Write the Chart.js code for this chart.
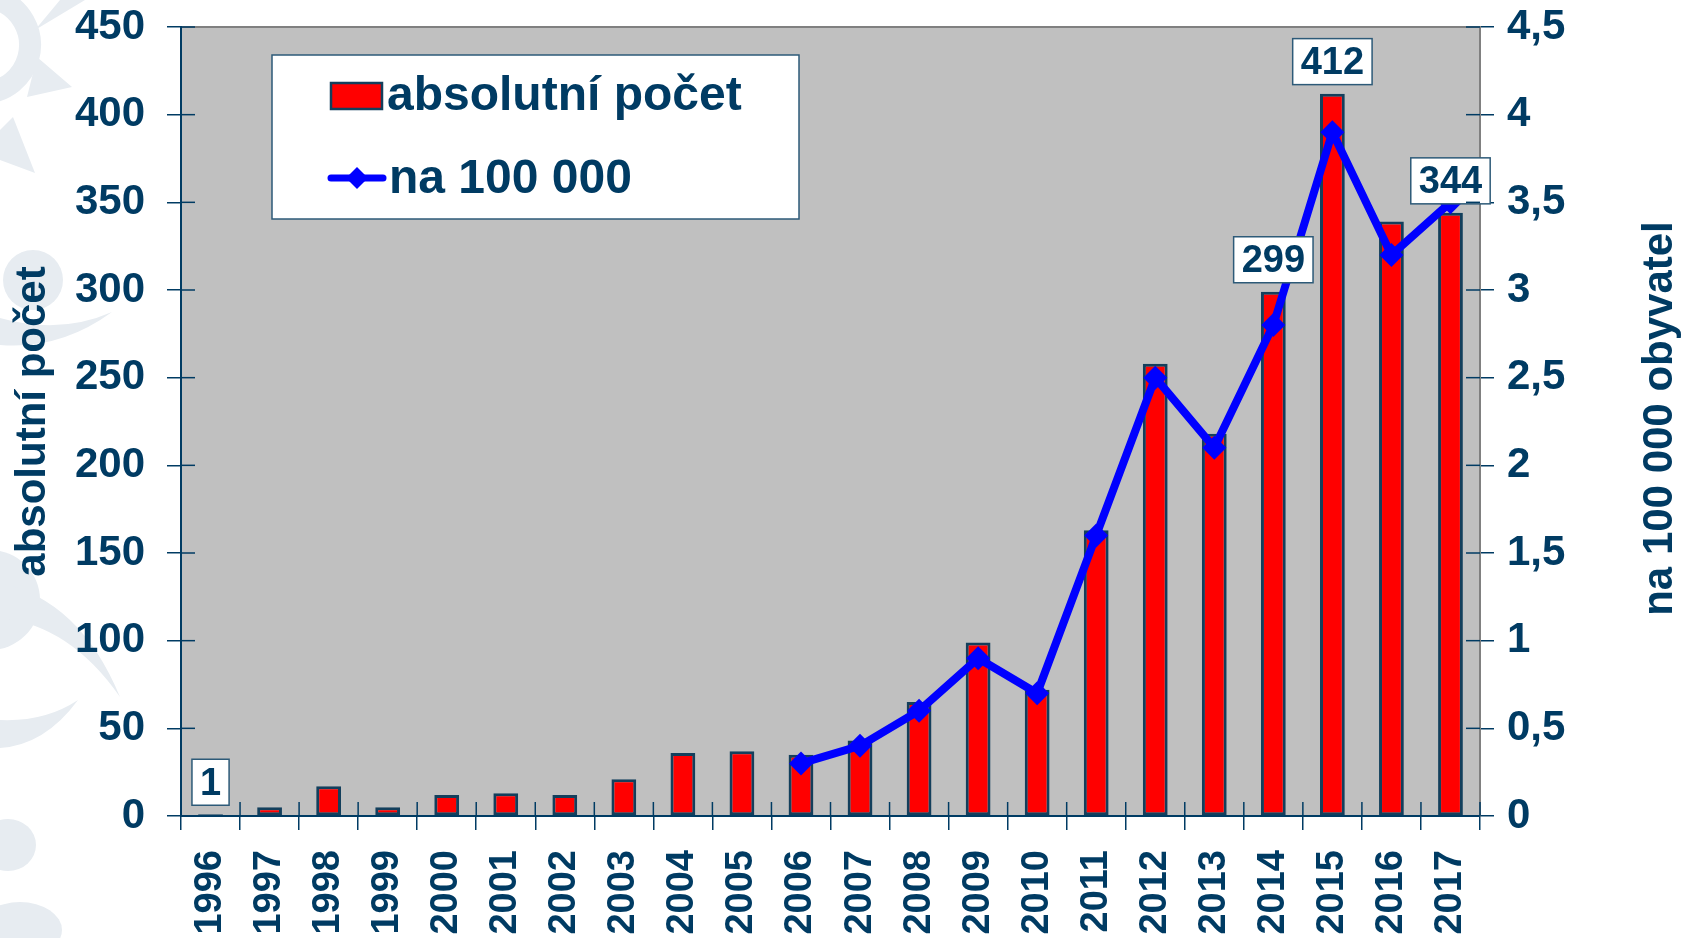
<!DOCTYPE html>
<html>
<head>
<meta charset="utf-8">
<script src="https://cdn.jsdelivr.net/npm/chart.js@4.4.0/dist/chart.umd.min.js"></script>
<style>
  html, body { margin: 0; padding: 0; background: #fff; }
  #wrap { width: 1689px; height: 938px; }
</style>
</head>
<body>
<div id="wrap"><canvas id="chart"></canvas></div>
<script>
const years = ['1996', '1997', '1998', '1999', '2000', '2001', '2002', '2003', '2004', '2005', '2006',
               '2007', '2008', '2009', '2010', '2011', '2012', '2013', '2014', '2015', '2016', '2017'];
const absolutniPocet = [1, 5, 17, 5, 12, 13, 12, 21, 36, 37, 35, 43, 65, 99, 72, 163, 258, 218, 299, 412, 339, 344];
const na100000 = [null, null, null, null, null, null, null, null, null, null,
                  0.3, 0.4, 0.6, 0.9, 0.7, 1.6, 2.5, 2.1, 2.8, 3.9, 3.2, 3.5];
const labelledYears = ['1996', '2014', '2015', '2017'];

const navy = '#003b63';
const font = '"Liberation Sans", Arial, sans-serif';

// faint logo shapes on the left + grey plot area
const backdrop = {
    id: 'backdrop',
    beforeDraw(chart) {
        const ctx = chart.ctx;
        const a = chart.chartArea;
        ctx.save();
        ctx.beginPath();
        ctx.rect(0, 0, a.left - 2, chart.height);
        ctx.clip();
        ctx.fillStyle = '#e7ecf1';
        ctx.strokeStyle = '#e7ecf1';
        // sun ring and rays
        ctx.lineWidth = 22;
        ctx.beginPath(); ctx.arc(-18, 45, 48, -1.3, 1.5); ctx.stroke();
        ctx.beginPath(); ctx.moveTo(35, 30); ctx.lineTo(85, 0); ctx.lineTo(60, 0); ctx.closePath(); ctx.fill();
        ctx.beginPath(); ctx.moveTo(37, 57); ctx.lineTo(72, 87); ctx.lineTo(27, 97); ctx.closePath(); ctx.fill();
        ctx.beginPath(); ctx.moveTo(13, 117); ctx.lineTo(35, 173); ctx.lineTo(0, 160); ctx.lineTo(0, 130); ctx.closePath(); ctx.fill();
        // dot
        ctx.beginPath(); ctx.arc(33, 280, 30, 0, Math.PI * 2); ctx.fill();
        // crescents
        ctx.beginPath();
        ctx.moveTo(0, 318); ctx.quadraticCurveTo(60, 335, 112, 312);
        ctx.quadraticCurveTo(60, 350, 0, 345); ctx.closePath(); ctx.fill();
        ctx.beginPath(); ctx.arc(-10, 600, 50, 0, Math.PI * 2); ctx.fill();
        ctx.beginPath();
        ctx.moveTo(0, 583); ctx.quadraticCurveTo(80, 600, 120, 697);
        ctx.quadraticCurveTo(70, 625, 0, 618); ctx.closePath(); ctx.fill();
        ctx.beginPath();
        ctx.moveTo(0, 720); ctx.quadraticCurveTo(45, 722, 78, 700);
        ctx.quadraticCurveTo(45, 745, 0, 748); ctx.closePath(); ctx.fill();
        ctx.beginPath(); ctx.ellipse(8, 845, 28, 26, 0, 0, Math.PI * 2); ctx.fill();
        ctx.beginPath(); ctx.ellipse(20, 930, 42, 28, 0, 0, Math.PI * 2); ctx.fill();
        ctx.restore();

        ctx.save();
        ctx.fillStyle = '#c0c0c0';
        ctx.fillRect(a.left, a.top, a.right - a.left, a.bottom - a.top);
        ctx.strokeStyle = '#808080';
        ctx.lineWidth = 2;
        ctx.strokeRect(a.left, a.top, a.right - a.left, a.bottom - a.top);
        ctx.restore();
    },
    afterDraw(chart) {
        const ctx = chart.ctx;
        const a = chart.chartArea;
        ctx.save();
        // inner halves of the tick marks
        ctx.strokeStyle = navy;
        ctx.lineWidth = 1.5;
        const y = chart.scales.y, y1 = chart.scales.y1;
        y.ticks.forEach((t, i) => {
            const p = y.getPixelForTick(i);
            ctx.beginPath(); ctx.moveTo(a.left, p); ctx.lineTo(a.left + 14, p); ctx.stroke();
        });
        y1.ticks.forEach((t, i) => {
            const p = y1.getPixelForTick(i);
            ctx.beginPath(); ctx.moveTo(a.right - 14, p); ctx.lineTo(a.right, p); ctx.stroke();
        });
        const step = (a.right - a.left) / years.length;
        for (let i = 0; i <= years.length; i++) {
            const p = a.left + i * step;
            ctx.beginPath(); ctx.moveTo(p, a.bottom - 14); ctx.lineTo(p, a.bottom); ctx.stroke();
        }
        // right axis title, reading bottom to top
        ctx.translate(1660, (a.top + a.bottom) / 2 - 3);
        ctx.rotate(-Math.PI / 2);
        ctx.fillStyle = navy;
        ctx.font = 'bold 42px ' + font;
        ctx.textAlign = 'center';
        ctx.textBaseline = 'middle';
        ctx.fillText('na 100 000 obyvatel', 0, 0);
        ctx.restore();
    }
};

const valueBoxes = {
    id: 'valueBoxes',
    afterDatasetsDraw(chart) {
        const ctx = chart.ctx;
        const meta = chart.getDatasetMeta(0);
        ctx.save();
        ctx.font = 'bold 38px ' + font;
        ctx.textAlign = 'center';
        ctx.textBaseline = 'middle';
        labelledYears.forEach(yr => {
            const i = years.indexOf(yr);
            const bar = meta.data[i];
            const txt = String(absolutniPocet[i]);
            const w = ctx.measureText(txt).width + 16;
            const h = 46;
            const bx = bar.x - w / 2;
            const by = bar.y - 9 - h;
            ctx.fillStyle = '#fff';
            ctx.fillRect(bx, by, w, h);
            ctx.strokeStyle = '#2d5a78';
            ctx.lineWidth = 1.5;
            ctx.strokeRect(bx, by, w, h);
            ctx.fillStyle = navy;
            ctx.fillText(txt, bar.x, by + h / 2 + 2);
        });
        ctx.restore();
    }
};

const boxLegend = {
    id: 'boxLegend',
    afterDraw(chart) {
        const ctx = chart.ctx;
        const ds = chart.data.datasets;
        ctx.save();
        ctx.fillStyle = '#fff';
        ctx.fillRect(272, 55, 527, 164);
        ctx.strokeStyle = '#2d5a78';
        ctx.lineWidth = 1.5;
        ctx.strokeRect(272, 55, 527, 164);

        // bar swatch
        ctx.fillStyle = ds[0].backgroundColor;
        ctx.fillRect(331, 83, 51, 26);
        ctx.strokeStyle = ds[0].borderColor;
        ctx.lineWidth = 2.5;
        ctx.strokeRect(331, 83, 51, 26);

        // line swatch
        ctx.strokeStyle = ds[1].borderColor;
        ctx.lineWidth = 7;
        ctx.lineCap = 'round';
        ctx.beginPath(); ctx.moveTo(331, 178); ctx.lineTo(383, 178); ctx.stroke();
        ctx.fillStyle = ds[1].borderColor;
        ctx.beginPath();
        ctx.moveTo(357, 167); ctx.lineTo(368, 178); ctx.lineTo(357, 189); ctx.lineTo(346, 178);
        ctx.closePath(); ctx.fill();

        ctx.fillStyle = navy;
        ctx.font = 'bold 48px ' + font;
        ctx.textBaseline = 'middle';
        ctx.fillText(ds[0].label, 387, 97);
        ctx.fillText(ds[1].label, 389, 180);
        ctx.restore();
    }
};

function noVerticalPadding(scale) {
    scale.paddingTop = 0;
    scale.paddingBottom = 0;
}

const ctx = document.getElementById('chart').getContext('2d');
const chart = new Chart(ctx, {
    type: 'bar',
    data: {
        labels: years,
        datasets: [{
            type: 'bar',
            label: 'absolutní počet',
            data: absolutniPocet,
            yAxisID: 'y',
            backgroundColor: '#ff0000',
            borderColor: '#133f5c',
            borderWidth: 3,
            borderSkipped: false,
            barPercentage: 0.42,
            categoryPercentage: 1,
            order: 1
        }, {
            type: 'line',
            label: 'na 100 000',
            data: na100000,
            yAxisID: 'y1',
            borderColor: '#0000ff',
            backgroundColor: '#0000ff',
            borderWidth: 8,
            pointStyle: 'rectRot',
            pointRadius: 12,
            pointBorderWidth: 0,
            spanGaps: false,
            order: 0
        }]
    },
    options: {
        responsive: true,
        maintainAspectRatio: false,
        animation: false,
        layout: { padding: { top: 27 } },
        plugins: {
            legend: { display: false },
            tooltip: { enabled: false }
        },
        scales: {
            x: {
                grid: { drawOnChartArea: false, color: navy, tickLength: 14, lineWidth: 1.5 },
                border: { color: navy, width: 2 },
                ticks: {
                    color: navy,
                    font: { family: font, size: 38, weight: 'bold' },
                    minRotation: 90,
                    maxRotation: 90,
                    padding: 20,
                    autoSkip: false
                },
                afterFit(scale) { scale.height = 122; }
            },
            y: {
                position: 'left',
                min: 0,
                max: 450,
                grid: { drawOnChartArea: false, color: navy, tickLength: 14, lineWidth: 1.5 },
                border: { color: navy, width: 2 },
                ticks: {
                    stepSize: 50,
                    color: navy,
                    padding: 22,
                    font: { family: font, size: 42, weight: 'bold' }
                },
                title: {
                    display: true,
                    text: 'absolutní počet',
                    color: navy,
                    padding: 8,
                    font: { family: font, size: 42, weight: 'bold' }
                },
                afterFit(scale) { scale.width = 181; noVerticalPadding(scale); }
            },
            y1: {
                position: 'right',
                min: 0,
                max: 4.5,
                grid: { drawOnChartArea: false, color: navy, tickLength: 14, lineWidth: 1.5 },
                border: { color: '#808080', width: 2 },
                ticks: {
                    stepSize: 0.5,
                    color: navy,
                    padding: 13,
                    font: { family: font, size: 42, weight: 'bold' },
                    callback: v => String(v).replace('.', ',')
                },
                afterFit(scale) { scale.width = 209; noVerticalPadding(scale); }
            }
        }
    },
    plugins: [backdrop, valueBoxes, boxLegend]
});
</script>
</body>
</html>
